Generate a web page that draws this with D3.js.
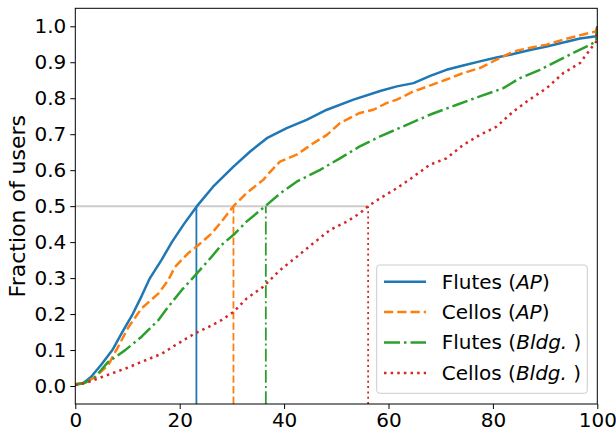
<!DOCTYPE html>
<html>
<head>
<meta charset="utf-8">
<script src="https://cdn.jsdelivr.net/npm/d3@7"></script>
<style>
  html, body { margin: 0; padding: 0; background: #ffffff; }
  svg { display: block; font-family: "DejaVu Sans", sans-serif; }
</style>
</head>
<body>
<svg id="chart" width="616" height="432"></svg>
<script>
// ---- data ----
const xTicks = [0, 20, 40, 60, 80, 100];
const yTicks = [0.0, 0.1, 0.2, 0.3, 0.4, 0.5, 0.6, 0.7, 0.8, 0.9, 1.0];

const flutesAP = [[0,0.005],[1.5,0.008],[3,0.025],[5,0.06],[7.1,0.10],[9,0.15],[11,0.20],[12.7,0.25],[14.3,0.30],[16.5,0.35],[18.5,0.40],[20.8,0.45],[23.3,0.50],[26.4,0.554],[30.3,0.61],[33.5,0.652],[36.7,0.689],[40.5,0.717],[44.3,0.740],[48.2,0.768],[53.3,0.796],[58.4,0.820],[61.6,0.833],[64.8,0.842],[68,0.862],[71.1,0.879],[74.3,0.891],[77.5,0.9025],[80.7,0.913],[83.9,0.923],[87.1,0.934],[90.3,0.944],[93.5,0.955],[96.7,0.966],[99.8,0.972],[100,1.0]];
const cellosAP = [[0,0.005],[2,0.01],[3.8,0.025],[6.3,0.058],[8.2,0.109],[10.2,0.164],[12.7,0.216],[15.9,0.257],[17.8,0.294],[19.1,0.331],[21.6,0.369],[23.6,0.392],[26.1,0.424],[28,0.457],[30.3,0.50],[32.8,0.536],[36,0.573],[37,0.59],[39.2,0.624],[42.4,0.643],[45.6,0.675],[48.2,0.698],[50.7,0.731],[54.5,0.759],[57.1,0.768],[59.7,0.787],[61.6,0.796],[64.8,0.819],[67.9,0.835],[71.1,0.852],[74.3,0.870],[77.5,0.884],[80.7,0.907],[83.9,0.930],[87,0.940],[90.3,0.949],[93.5,0.963],[96.7,0.975],[99.8,0.986],[100,1.0]];
const flutesBldg = [[0,0.003],[2,0.01],[3.8,0.025],[6.3,0.067],[9.5,0.099],[12.7,0.137],[15.9,0.183],[17.8,0.22],[20.4,0.267],[23.3,0.313],[26.1,0.359],[28,0.392],[30.6,0.424],[32.8,0.457],[36.4,0.50],[39.2,0.535],[42.4,0.568],[46.9,0.601],[50.7,0.633],[54.5,0.666],[58.4,0.694],[63.5,0.726],[67.9,0.754],[73.1,0.782],[77.5,0.805],[82,0.828],[85.2,0.856],[89,0.879],[92.2,0.9025],[95.4,0.926],[98,0.944],[99.8,0.958],[100,1.0]];
const cellosBldg = [[0,0.003],[2,0.008],[5.1,0.025],[9.5,0.048],[12.7,0.067],[16.6,0.09],[19.1,0.113],[22.9,0.146],[25.5,0.164],[28,0.183],[30.3,0.206],[32.8,0.243],[36,0.276],[39.2,0.322],[42.4,0.359],[45.6,0.397],[48.8,0.434],[52,0.457],[54.5,0.480],[56.1,0.50],[58.4,0.522],[61.6,0.550],[64.8,0.582],[67.9,0.615],[71.1,0.633],[74.3,0.670],[77.5,0.698],[80.7,0.721],[83.9,0.763],[87,0.796],[90.3,0.828],[93.5,0.870],[96.7,0.898],[98.6,0.935],[99.8,0.958],[100,1.0]];

const seriesNames = ["Flutes", "Cellos", "Flutes", "Cellos"];
const seriesTags = ["AP", "AP", "Bldg.", "Bldg."];
const medians = [23.2, 30.3, 36.5, 56.1];
const colors = ["#1f77b4", "#ff7f0e", "#2ca02c", "#d62728"];

// ---- layout ----
const svg = d3.select("#chart");
const L = 75.3, R = 597.3, T = 8.3, B = 404;
const x = d3.scaleLinear().domain([0, 100]).range([L, R]);
const y = d3.scaleLinear().domain([-0.05, 1.05]).range([B, T]);

const lw = 2.5, vw = 1.8;
const mainDash = [null, `${3.7*lw},${1.6*lw}`, `${6.4*lw},${1.6*lw},${lw},${1.6*lw}`, `${lw},${1.65*lw}`];
const vDash = [null, "7.4,3.2", "12.8,3.2,2,3.2", "2,3.3"];
const data = [flutesAP, cellosAP, flutesBldg, cellosBldg];

svg.append("defs").append("clipPath").attr("id", "clip")
  .append("rect").attr("x", L).attr("y", T).attr("width", R - L).attr("height", B - T);

const plot = svg.append("g").attr("clip-path", "url(#clip)");

// horizontal reference at 0.5
plot.append("line")
  .attr("x1", x(0)).attr("x2", x(d3.max(medians)))
  .attr("y1", y(0.5)).attr("y2", y(0.5))
  .attr("stroke", "#cccccc").attr("stroke-width", 2);

// vertical median lines
medians.forEach((m, i) => {
  plot.append("line")
    .attr("x1", x(m)).attr("x2", x(m))
    .attr("y1", y(-0.05)).attr("y2", y(0.5))
    .attr("stroke", colors[i]).attr("stroke-width", vw)
    .attr("stroke-dasharray", vDash[i]);
});

const line = d3.line().x(d => x(d[0])).y(d => y(d[1]));
data.forEach((d, i) => {
  plot.append("path").datum(d)
    .attr("d", line)
    .attr("fill", "none")
    .attr("stroke", colors[i])
    .attr("stroke-width", lw)
    .attr("stroke-linejoin", "round")
    .attr("stroke-dasharray", mainDash[i]);
});

// axes
const fs = 20;
const xAxis = d3.axisBottom(x).tickValues(xTicks).tickSize(5).tickPadding(4).tickFormat(d3.format("d"));
const yAxis = d3.axisLeft(y).tickValues(yTicks).tickSize(5).tickPadding(4).tickFormat(d3.format(".1f"));
const gx = svg.append("g").attr("transform", `translate(0,${B})`).call(xAxis);
const gy = svg.append("g").attr("transform", `translate(${L},0)`).call(yAxis);
[gx, gy].forEach(g => {
  g.select(".domain").remove();
  g.selectAll(".tick line").attr("stroke", "#000").attr("stroke-width", 1);
  g.selectAll(".tick text").attr("fill", "#000").attr("font-size", fs)
    .attr("font-family", "DejaVu Sans");
});

// frame
svg.append("rect").attr("x", L).attr("y", T).attr("width", R - L).attr("height", B - T)
  .attr("fill", "none").attr("stroke", "#000").attr("stroke-width", 1);

// y label
svg.append("text")
  .attr("transform", `translate(25,${(T + B) / 2}) rotate(-90)`)
  .attr("text-anchor", "middle")
  .attr("font-size", 22)
  .attr("fill", "#000")
  .text("Fraction of users");

// legend
const lg = svg.append("g");
lg.append("rect").attr("x", 376.7).attr("y", 265).attr("width", 210.6).attr("height", 128.3)
  .attr("rx", 3).attr("fill", "#fff").attr("fill-opacity", 0.8)
  .attr("stroke", "#cccccc").attr("stroke-width", 1);
const rowY = [281.7, 311.9, 342.4, 373.0];
seriesNames.forEach((n, i) => {
  lg.append("line").attr("x1", 384).attr("x2", 426).attr("y1", rowY[i]).attr("y2", rowY[i])
    .attr("stroke", colors[i]).attr("stroke-width", lw).attr("stroke-dasharray", mainDash[i]);
  const t = lg.append("text").attr("x", 441.7).attr("y", rowY[i] + 7).attr("font-size", fs).attr("fill", "#000");
  t.append("tspan").text(n + " (");
  t.append("tspan").attr("font-style", "italic").text(seriesTags[i]);
  t.append("tspan").text(seriesTags[i] === "AP" ? ")" : " )");
});
</script>
</body>
</html>
